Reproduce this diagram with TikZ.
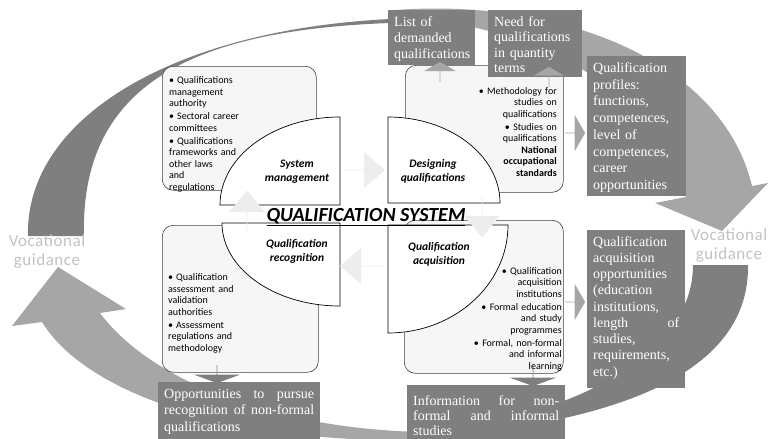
\documentclass[tikz,border=0pt]{standalone}
\usepackage{fontspec}
\setmainfont{Liberation Serif}
\newfontfamily\calibri{Carlito}
\newfontfamily\guidefont[LetterSpace=3]{Carlito}
\usetikzlibrary{shapes.arrows}

\definecolor{boxgray}{HTML}{7F7F7F}
\definecolor{ringlight}{HTML}{A6A6A6}
\definecolor{paleback}{HTML}{F6F6F6}
\definecolor{palefill}{HTML}{EDEDED}
\definecolor{guidegray}{HTML}{C2C2C2}

\newcommand{\bitem}[1]{\par\hangindent=8pt\hangafter=1\noindent\makebox[8pt][l]{\textbullet}#1}
\newcommand{\bgap}{\par\vspace{1.6pt}}

\begin{document}
\begin{tikzpicture}[x=1pt,y=-1pt,
  panel/.style={draw=black!75, fill=paleback, rounded corners=11pt, line width=0.6pt, anchor=north west, inner sep=0pt},
  quad/.style={draw=black, fill=white, line width=0.7pt},
  outbox/.style={fill=boxgray, text=white, anchor=north west, inner xsep=6pt, inner ysep=5pt, text height=11pt, align=left, font=\fontsize{14}{16.3}\selectfont},
  bullets/.style={inner sep=0pt, font=\calibri\fontsize{10}{11.5}\selectfont},
  qlabel/.style={font=\calibri\bfseries\itshape\fontsize{11.5}{14}\selectfont, align=center},
  palearrow/.style={single arrow, fill=palefill, inner sep=0pt, single arrow head extend=9pt, single arrow tip angle=80, minimum width=36pt, minimum height=42pt},
  midarrow/.style={single arrow, fill=ringlight, inner sep=0pt, single arrow tip angle=120},
  guide/.style={font=\guidefont\fontsize{17}{19}\selectfont, text=guidegray, align=center}
]
\useasboundingbox (0,0) rectangle (769,439);

% ring round the system
\fill[boxgray] (28,236) .. controls (25,120) and (170,30) .. (390,19) -- (390,23) .. controls (200,30) and (80,80) .. (84,236) -- cycle;
\fill[ringlight] (395,10) .. controls (560,-2) and (722,60) .. (752,186) -- (768,183) -- (722,231) -- (655,203) -- (686,197) .. controls (670,110) and (560,28) .. (395,15) -- cycle;
\fill[boxgray] (693,265) -- (748,265) .. controls (750,380) and (600,425) .. (420,438) -- (420,434) .. controls (560,420) and (693,360) .. (693,265) -- cycle;
\fill[ringlight] (420,440) .. controls (250,444) and (90,400) .. (42,322) -- (12,326) -- (58,267) -- (126,309) -- (100,313) .. controls (150,380) and (270,428) .. (420,432) -- cycle;

% panels
\node[panel, minimum width=154, minimum height=124] (smpanel) at (162,66) {};
\node[panel, minimum width=158, minimum height=127] (despanel) at (405,65) {};
\node[panel, minimum width=156, minimum height=147] (recpanel) at (162,225) {};
\node[panel, minimum width=159, minimum height=153] (acqpanel) at (404,220) {};

% quarters
\draw[quad] (340,117) -- (340,205) -- (220,205) arc[start angle=180, end angle=270, x radius=120, y radius=88] -- cycle;
\draw[quad] (388,117) -- (388,203) -- (500,203) arc[start angle=0, end angle=-90, x radius=112, y radius=86] -- cycle;
\draw[quad] (222,223) -- (340,223) -- (340,306) arc[start angle=90, end angle=180, x radius=118, y radius=83] -- cycle;
\draw[quad] (388,333) -- (388,225) -- (508,225) arc[start angle=0, end angle=90, x radius=120, y radius=108] -- cycle;

% cycle inside
\node[palearrow] (a1) at (364,170) {};
\node[palearrow, rotate=-90] (a2) at (482,216) {};
\node[palearrow, rotate=180] (a3) at (361,266) {};
\node[palearrow, rotate=90] (a4) at (247,212) {};

% outputs
\node[outbox, text width=75pt, text depth=34pt] (list) at (388,10) {List of\\demanded\\qualifications};
\node[outbox, text width=82pt, text depth=46pt, font=\fontsize{14}{15.5}\selectfont] (need) at (488,10) {Need for\\qualifications\\in quantity\\terms};
\node[outbox, text width=87pt, text depth=119pt, font=\fontsize{14}{16.8}\selectfont] (prof) at (587,56) {Qualification\\profiles:\\functions,\\competences,\\level of\\competences,\\career\\opportunities};
\node[outbox, text width=86pt, text depth=137pt, font=\fontsize{14}{16.25}\selectfont] (acqopp) at (587,230) {Qualification\\acquisition\\opportunities\\(education\\institutions,\\length \hfill of\\studies,\\requirements,\\etc.)};
\node[outbox, text width=146pt, text depth=40pt, text height=15pt, font=\fontsize{14}{15}\selectfont] (info) at (407,385) {Information \hfill for \hfill non-\\formal \hfill and \hfill informal\\studies};
\node[outbox, text width=150pt, text depth=40pt, font=\fontsize{14}{16.5}\selectfont] (opp) at (158,382) {Opportunities \hfill to \hfill pursue\\recognition \hfill of \hfill non-formal\\qualifications};

% small arrows to the outputs
\node[midarrow, minimum width=36pt, minimum height=20pt, single arrow head extend=8pt] (r1) at (575,133) {};
\node[midarrow, minimum width=36pt, minimum height=20pt, single arrow head extend=8pt] (r2) at (575,302) {};
\node[midarrow, rotate=90, minimum width=32pt, minimum height=20pt, single arrow head extend=9pt] (u1) at (440,72) {};
\node[midarrow, rotate=90, minimum width=30pt, minimum height=20pt, single arrow head extend=8pt] (u2) at (549,77) {};
\node[midarrow, fill=boxgray, rotate=-90, minimum width=47pt, minimum height=18pt, single arrow head extend=13pt, single arrow tip angle=140] (d1) at (217,374) {};
\node[midarrow, fill=boxgray, rotate=-90, minimum width=47pt, minimum height=22pt, single arrow head extend=13pt, single arrow tip angle=140] (d2) at (533,375) {};

% texts
\node[bullets, anchor=north west, text width=120pt, align=left] (smtext) at (169,72) {\bitem{Qualifications\\management\\authority}\bgap\bitem{Sectoral career\\committees}\bgap\bitem{Qualifications\\frameworks and\\other laws\\and\\regulations}};
\node[bullets, anchor=north east, text width=110pt, align=right] (destext) at (557,87) {\textbullet\ Methodology for\\studies on\\qualifications\\[1.6pt]\textbullet\ Studies on\\qualifications\\\textbf{National}\\\textbf{occupational}\\\textbf{standards}};
\node[bullets, anchor=north west, text width=120pt, align=left] (rectext) at (168,269) {\bitem{Qualification\\assessment and\\validation\\authorities}\bgap\bitem{Assessment\\regulations and\\methodology}};
\node[bullets, anchor=north east, text width=110pt, align=right] (acqtext) at (562,267) {\textbullet\ Qualification\\acquisition\\institutions\\[1.6pt]\textbullet\ Formal education\\and study\\programmes\\[1.6pt]\textbullet\ Formal, non-formal\\and informal\\learning};

\node[qlabel] (smlab) at (297,172) {System\\management};
\node[qlabel] (deslab) at (433,171) {Designing\\qualifications};
\node[qlabel] (reclab) at (297,251) {Qualification\\recognition};
\node[qlabel] (acqlab) at (439,254) {Qualification\\acquisition};

\node[font=\calibri\bfseries\itshape\fontsize{20}{24}\selectfont, anchor=base] (title) at (366,221) {\underline{QUALIFICATION SYSTEM}};

\node[guide] (vgleft) at (47,252) {Vocational\\guidance};
\node[guide] (vgright) at (729,246) {Vocational\\guidance};
\end{tikzpicture}
\end{document}
